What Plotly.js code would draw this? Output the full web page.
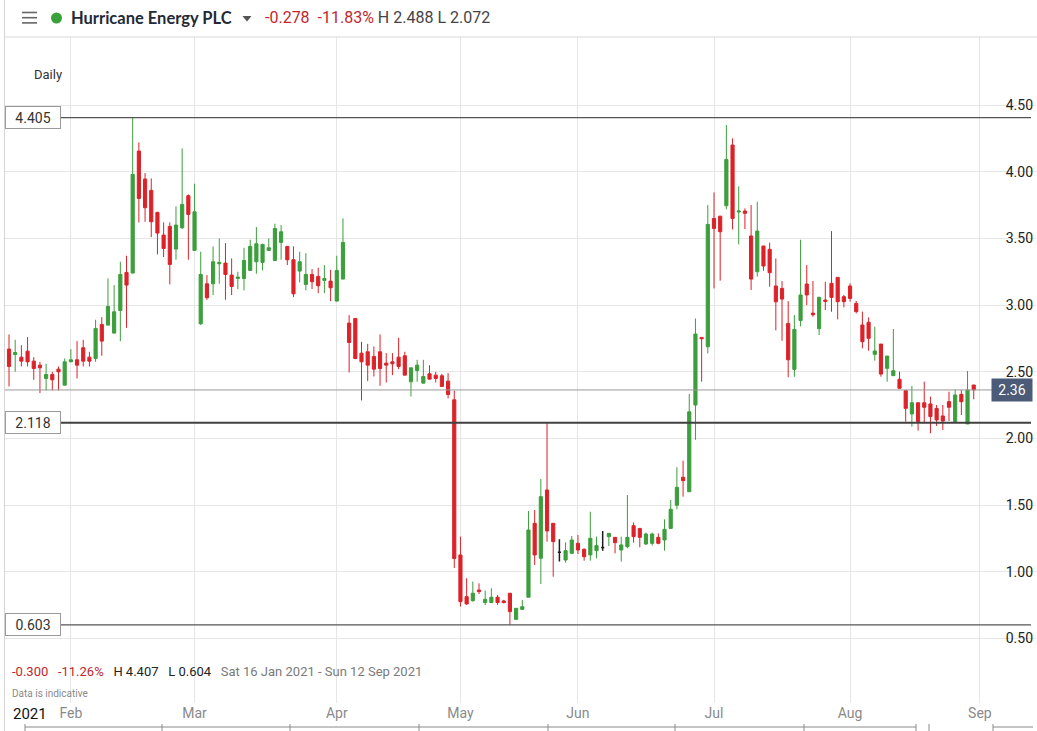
<!DOCTYPE html>
<html>
<head>
<meta charset="utf-8">
<script src="https://cdn.plot.ly/plotly-3.0.1.min.js"></script>
<style>
  html, body { margin: 0; padding: 0; background: #fff; }
  #chart { width: 1037px; height: 731px; }
</style>
</head>
<body>
<div id="chart"></div>
<script>
// ---------------- DATA ----------------
const dates = [
  '2021-01-18','2021-01-19','2021-01-20','2021-01-21','2021-01-22','2021-01-25','2021-01-26','2021-01-27','2021-01-28','2021-01-29',
  '2021-02-01','2021-02-02','2021-02-03','2021-02-04','2021-02-05','2021-02-08','2021-02-09','2021-02-10','2021-02-11','2021-02-12',
  '2021-02-15','2021-02-16','2021-02-17','2021-02-18','2021-02-19','2021-02-22','2021-02-23','2021-02-24','2021-02-25','2021-02-26',
  '2021-03-01','2021-03-02','2021-03-03','2021-03-04','2021-03-05','2021-03-08','2021-03-09','2021-03-10','2021-03-11','2021-03-12',
  '2021-03-15','2021-03-16','2021-03-17','2021-03-18','2021-03-19','2021-03-22','2021-03-23','2021-03-24','2021-03-25','2021-03-26',
  '2021-03-29','2021-03-30','2021-03-31',
  '2021-04-01','2021-04-06','2021-04-07','2021-04-08','2021-04-09','2021-04-12','2021-04-13','2021-04-14','2021-04-15','2021-04-16',
  '2021-04-19','2021-04-20','2021-04-21','2021-04-22','2021-04-23','2021-04-26','2021-04-27','2021-04-28','2021-04-29','2021-04-30',
  '2021-05-04','2021-05-05','2021-05-06','2021-05-07','2021-05-10','2021-05-11','2021-05-12','2021-05-13','2021-05-14',
  '2021-05-17','2021-05-18','2021-05-19','2021-05-20','2021-05-21','2021-05-24','2021-05-25','2021-05-26','2021-05-27','2021-05-28',
  '2021-06-01','2021-06-02','2021-06-03','2021-06-04','2021-06-07','2021-06-08','2021-06-09','2021-06-10','2021-06-11',
  '2021-06-14','2021-06-15','2021-06-16','2021-06-17','2021-06-18','2021-06-21','2021-06-22','2021-06-23','2021-06-24','2021-06-25',
  '2021-06-28','2021-06-29','2021-06-30',
  '2021-07-01','2021-07-02','2021-07-05','2021-07-06','2021-07-07','2021-07-08','2021-07-09','2021-07-12','2021-07-13','2021-07-14',
  '2021-07-15','2021-07-16','2021-07-19','2021-07-20','2021-07-21','2021-07-22','2021-07-23','2021-07-26','2021-07-27','2021-07-28',
  '2021-07-29','2021-07-30',
  '2021-08-02','2021-08-03','2021-08-04','2021-08-05','2021-08-06','2021-08-09','2021-08-10','2021-08-11','2021-08-12','2021-08-13',
  '2021-08-16','2021-08-17','2021-08-18','2021-08-19','2021-08-20','2021-08-23','2021-08-24','2021-08-25','2021-08-26','2021-08-27',
  '2021-08-31'
];

const open = [
  2.67,2.63,2.61,2.655,2.58,2.55,2.45,2.48,2.52,2.40,
  2.575,2.59,2.68,2.61,2.60,2.855,2.85,2.79,2.96,3.245,
  3.24,4.155,3.945,3.86,3.695,3.525,3.59,3.42,3.58,3.82,
  3.41,2.86,3.16,3.16,3.31,3.315,3.225,3.20,3.20,3.26,
  3.325,3.32,3.41,3.335,3.47,3.44,3.34,3.255,3.155,3.23,
  3.215,3.185,3.18,
  3.03,3.195,2.865,2.90,2.64,2.65,2.615,2.65,2.565,2.575,
  2.61,2.62,2.425,2.51,2.415,2.485,2.475,2.47,2.43,2.29,
  1.127,0.814,0.784,0.864,0.77,0.77,0.81,0.782,0.84,
  0.644,0.719,0.81,1.364,1.102,1.614,1.364,1.147,1.089,1.139,
  1.214,1.169,1.127,1.159,1.182,1.264,1.259,1.164,1.189,
  1.346,1.326,1.209,1.214,1.259,1.239,1.326,1.50,1.709,1.601,
  2.251,2.758,2.688,
  3.65,3.667,3.745,4.20,3.698,3.705,3.518,3.25,3.443,3.418,
  3.143,3.125,2.863,2.518,2.885,3.158,2.94,2.823,3.038,3.163,
  3.208,3.063,
  3.143,3.013,2.851,2.871,2.631,2.708,2.526,2.471,2.444,2.359,
  2.184,2.268,2.268,2.259,2.226,2.169,2.276,2.126,2.331,2.109,
  2.401
];

const high = [
  2.78,2.74,2.70,2.76,2.61,2.575,2.56,2.50,2.54,2.60,
  2.67,2.73,2.74,2.65,2.89,2.91,3.20,3.15,3.325,3.37,
  4.407,4.22,3.99,3.95,3.70,3.62,3.62,3.74,4.175,3.83,
  3.91,3.40,3.225,3.44,3.50,3.465,3.35,3.25,3.43,3.49,
  3.585,3.46,3.50,3.61,3.60,3.44,3.44,3.40,3.39,3.27,
  3.28,3.30,3.265,
  3.37,3.65,2.925,2.90,2.725,2.71,2.69,2.78,2.64,2.64,
  2.755,2.65,2.53,2.59,2.59,2.55,2.50,2.485,2.49,2.36,
  1.264,0.952,0.927,0.914,0.86,0.877,0.827,0.79,0.84,
  0.727,0.789,1.456,1.464,1.696,2.114,1.364,1.244,1.222,1.269,
  1.277,1.177,1.451,1.264,1.306,1.289,1.259,1.264,1.576,
  1.371,1.326,1.294,1.294,1.289,1.394,1.539,1.784,1.834,2.334,
  2.90,2.758,3.75,
  3.845,3.667,4.35,4.25,3.89,3.725,3.75,3.775,3.443,3.468,
  3.35,3.18,3.03,2.925,3.49,3.30,3.18,3.063,3.175,3.555,
  3.208,3.076,
  3.163,3.031,2.951,2.908,2.838,2.708,2.618,2.821,2.501,2.359,
  2.394,2.268,2.426,2.314,2.251,2.251,2.351,2.368,2.364,2.506,
  2.401
];

const low = [
  2.39,2.50,2.54,2.54,2.44,2.34,2.36,2.36,2.36,2.40,
  2.575,2.45,2.54,2.54,2.575,2.62,2.85,2.79,2.73,2.83,
  3.24,3.62,3.625,3.51,3.38,3.36,3.155,3.34,3.57,3.34,
  3.41,2.85,3.04,3.075,3.16,3.04,3.075,3.12,3.11,3.26,
  3.235,3.26,3.41,3.335,3.34,3.30,3.06,3.17,3.11,3.12,
  3.09,3.09,3.03,
  3.03,3.195,2.495,2.595,2.285,2.43,2.465,2.395,2.42,2.475,
  2.52,2.475,2.315,2.425,2.415,2.445,2.42,2.39,2.30,1.03,
  0.74,0.752,0.777,0.834,0.752,0.77,0.752,0.764,0.604,
  0.64,0.714,0.81,1.052,0.909,1.227,0.964,1.077,1.069,1.134,
  1.134,1.084,1.084,1.102,1.159,1.194,1.139,1.077,1.177,
  1.219,1.184,1.202,1.197,1.207,1.159,1.326,1.469,1.564,1.601,
  1.99,2.426,2.638,
  3.125,3.183,3.718,3.567,3.455,3.57,3.113,3.213,3.258,3.138,
  2.81,2.733,2.459,2.463,2.84,3.0,2.913,2.776,2.963,2.95,
  2.893,2.983,
  3.026,2.938,2.676,2.658,2.583,2.463,2.426,2.471,2.376,2.126,
  2.089,2.059,2.114,2.039,2.094,2.064,2.131,2.119,2.176,2.109,
  2.294
];

const close = [
  2.54,2.645,2.58,2.575,2.525,2.53,2.48,2.44,2.50,2.575,
  2.59,2.55,2.58,2.58,2.825,2.73,2.99,2.95,3.23,3.15,
  3.98,3.80,3.73,3.625,3.54,3.425,3.305,3.60,3.755,3.68,
  3.70,3.23,3.055,3.325,3.32,3.23,3.14,3.21,3.335,3.44,
  3.46,3.455,3.43,3.575,3.55,3.34,3.085,3.325,3.23,3.175,
  3.145,3.20,3.13,
  3.26,3.47,2.72,2.60,2.575,2.55,2.52,2.525,2.55,2.56,
  2.54,2.475,2.53,2.55,2.465,2.445,2.45,2.39,2.33,1.10,
  0.777,0.76,0.84,0.852,0.794,0.81,0.77,0.77,0.702,
  0.727,0.739,1.314,1.127,1.564,1.307,1.227,1.147,1.159,1.239,
  1.164,1.114,1.252,1.197,1.182,1.289,1.219,1.202,1.259,
  1.264,1.259,1.284,1.284,1.214,1.319,1.469,1.634,1.684,2.20,
  2.783,2.748,3.605,
  3.575,3.55,4.092,3.65,3.705,3.688,3.195,3.555,3.293,3.243,
  3.025,3.045,2.59,2.818,3.076,3.076,2.927,3.058,3.028,3.058,
  3.026,3.026,
  3.05,2.951,2.726,2.751,2.656,2.483,2.618,2.508,2.376,2.226,
  2.268,2.126,2.234,2.164,2.139,2.131,2.234,2.326,2.276,2.364,
  2.364
];

const monthTickDates  = ['2021-02-01','2021-03-01','2021-04-01','2021-05-04','2021-06-01','2021-07-01','2021-08-02','2021-09-01'];
const monthTickLabels = ['Feb','Mar','Apr','May','Jun','Jul','Aug','Sep'];
const priceTicks = [0.5, 1.0, 1.5, 2.0, 2.5, 3.0, 3.5, 4.0, 4.5];
const levelValues = [4.405, 2.118, 0.603];
const levelLabels = ['4.405', '2.118', '0.603'];
const lastPriceLabel = '2.36';

// ---------------- LAYOUT HELPERS ----------------
const W = 1037, H = 731;
const M = {l: 5, r: 1, t: 37, b: 28};
const PW = W - M.l - M.r, PH = H - M.t - M.b;
const px = p => (p - M.l) / PW;          // page x pixel -> paper
const py = p => (H - M.b - p) / PH;      // page y pixel -> paper

const GREEN = '#3c9e3c', RED = '#dc2229', DOJI = '#1e1e1e';

// positions on the trading-day axis
const idx = dates.map((d, i) => i);
const posOf = d => { const i = dates.indexOf(d); return i >= 0 ? i : dates.length; };

const mainI = idx.filter(i => open[i] !== close[i]);
const dojiI = idx.filter(i => open[i] === close[i]);
const pick = (arr, ids) => ids.map(i => arr[i]);

const traces = [
  {
    type: 'candlestick',
    x: pick(idx, mainI), open: pick(open, mainI), high: pick(high, mainI),
    low: pick(low, mainI), close: pick(close, mainI),
    text: pick(dates, mainI),
    increasing: {line: {color: GREEN, width: 1}, fillcolor: GREEN},
    decreasing: {line: {color: RED, width: 1}, fillcolor: RED},
    showlegend: false, hoverinfo: 'text+y'
  },
  {
    type: 'candlestick',
    x: pick(idx, dojiI), open: pick(open, dojiI), high: pick(high, dojiI),
    low: pick(low, dojiI), close: pick(close, dojiI),
    text: pick(dates, dojiI),
    increasing: {line: {color: DOJI, width: 1.5}, fillcolor: DOJI},
    decreasing: {line: {color: DOJI, width: 1.5}, fillcolor: DOJI},
    showlegend: false, hoverinfo: 'text+y'
  }
];

const lastClose = close[close.length - 1];
const FONT = 'Roboto, "Open Sans", Arial, sans-serif';

const shapes = [
  // header separator and left border
  {type: 'line', xref: 'paper', yref: 'paper', x0: px(4), x1: px(1037), y0: py(37), y1: py(37), line: {color: '#d9d9d9', width: 1}},
  {type: 'line', xref: 'paper', yref: 'paper', x0: px(4.5), x1: px(4.5), y0: py(0), y1: py(731), line: {color: '#d4d4d4', width: 1}},
  // hamburger icon
  {type: 'line', xref: 'paper', yref: 'paper', x0: px(22), x1: px(37), y0: py(12.5), y1: py(12.5), line: {color: '#666', width: 1.6}},
  {type: 'line', xref: 'paper', yref: 'paper', x0: px(22), x1: px(37), y0: py(17.7), y1: py(17.7), line: {color: '#666', width: 1.6}},
  {type: 'line', xref: 'paper', yref: 'paper', x0: px(22), x1: px(37), y0: py(22.9), y1: py(22.9), line: {color: '#666', width: 1.6}},
  // green status dot
  {type: 'circle', xref: 'paper', yref: 'paper', x0: px(51), x1: px(62), y0: py(12.5), y1: py(23.5), fillcolor: '#3aa13a', line: {width: 0}},
  // dropdown triangle
  {type: 'path', xref: 'paper', yref: 'paper',
   path: `M${px(242.5)},${py(16)} L${px(251.5)},${py(16)} L${px(247)},${py(21.5)} Z`,
   fillcolor: '#555', line: {width: 0}},
  // current price line
  {type: 'line', xref: 'paper', yref: 'y', x0: 0, x1: px(993), y0: lastClose, y1: lastClose, line: {color: '#9a9a9a', width: 1}},
  // navigator strip at bottom
  {type: 'line', xref: 'paper', yref: 'paper', x0: px(25), x1: px(916), y0: py(727), y1: py(727), line: {color: '#8a8a8a', width: 1}},
  {type: 'line', xref: 'paper', yref: 'paper', x0: px(993), x1: px(1033), y0: py(727), y1: py(727), line: {color: '#8a8a8a', width: 1}}
];
[25, 162, 290, 419, 548, 675, 804, 916, 929, 993].forEach(x => {
  shapes.push({type: 'line', xref: 'paper', yref: 'paper', x0: px(x), x1: px(x), y0: py(724), y1: py(731), line: {color: '#8a8a8a', width: 1}});
});
levelValues.forEach((v, k) => {
  shapes.push({type: 'line', xref: 'paper', yref: 'y', x0: px(60.5), x1: px(1031), y0: v, y1: v,
               line: {color: k === 1 ? '#404040' : '#555', width: k === 1 ? 2 : 1.2}});
});

const annotations = [
  {xref: 'paper', yref: 'paper', x: px(69), y: py(18), xanchor: 'left', yanchor: 'middle', showarrow: false,
   text: '<b>Hurricane Energy PLC</b>', font: {family: 'Lato, ' + FONT, size: 16.5, color: '#1f2a37'}},
  {xref: 'paper', yref: 'paper', x: px(263), y: py(18), xanchor: 'left', yanchor: 'middle', showarrow: false,
   text: '<span style="color:#c0282d">-0.278&nbsp;&nbsp;-11.83%</span> H 2.488 L 2.072',
   font: {family: FONT, size: 16, color: '#444'}},
  {xref: 'paper', yref: 'paper', x: px(64), y: py(74), xanchor: 'right', yanchor: 'middle', showarrow: false,
   text: 'Daily', font: {family: FONT, size: 13, color: '#333'}},
  {xref: 'paper', yref: 'paper', x: px(10), y: py(671), xanchor: 'left', yanchor: 'middle', showarrow: false,
   text: '<span style="color:#c0282d">-0.300&nbsp;&nbsp;&nbsp;-11.26%</span>&nbsp;&nbsp;&nbsp;<span style="color:#222">H 4.407&nbsp;&nbsp;&nbsp;L 0.604</span>&nbsp;&nbsp;&nbsp;<span style="color:#7a7a7a">Sat 16 Jan 2021 - Sun 12 Sep 2021</span>',
   font: {family: FONT, size: 13, color: '#222'}},
  {xref: 'paper', yref: 'paper', x: px(10), y: py(693), xanchor: 'left', yanchor: 'middle', showarrow: false,
   text: 'Data is indicative', font: {family: FONT, size: 10, color: '#8a8a8a'}},
  {xref: 'paper', yref: 'paper', x: px(11), y: py(714), xanchor: 'left', yanchor: 'middle', showarrow: false,
   text: '2021', font: {family: FONT, size: 15, color: '#111'}},
  {xref: 'paper', yref: 'y', x: px(1033), y: lastClose, xanchor: 'right', yanchor: 'middle', showarrow: false,
   text: lastPriceLabel, bgcolor: '#4b5b78', borderpad: 3, width: 34,
   font: {family: FONT, size: 14, color: '#ffffff'}}
];
levelValues.forEach((v, k) => {
  annotations.push({xref: 'paper', yref: 'y', x: px(4.5), y: v, xanchor: 'left', yanchor: 'middle', showarrow: false,
    text: levelLabels[k], bgcolor: '#ffffff', bordercolor: '#9a9a9a', borderwidth: 1, borderpad: 2, width: 50, height: 17,
    font: {family: FONT, size: 14, color: '#333'}});
});

const layout = {
  width: W, height: H,
  margin: M,
  paper_bgcolor: '#ffffff', plot_bgcolor: '#ffffff',
  showlegend: false,
  boxgap: 0.27,
  font: {family: FONT},
  xaxis: {
    type: 'linear',
    range: [-0.65, -0.65 + PW / 6.184],
    tickmode: 'array',
    tickvals: monthTickDates.map(posOf),
    ticktext: monthTickLabels,
    showgrid: true, gridcolor: '#e6e6e6', gridwidth: 1,
    zeroline: false, showline: false, ticks: '',
    tickfont: {family: FONT, size: 14, color: '#8a8a8a'},
    rangeslider: {visible: false},
    fixedrange: true
  },
  yaxis: {
    side: 'right',
    range: [0.017, 5.01],
    tickmode: 'array',
    tickvals: priceTicks,
    tickformat: '.2f',
    ticklabelposition: 'inside',
    showgrid: true, gridcolor: '#e6e6e6', gridwidth: 1,
    zeroline: false, showline: false, ticks: '',
    tickfont: {family: FONT, size: 14, color: '#222'},
    fixedrange: true
  },
  shapes: shapes,
  annotations: annotations
};

Plotly.newPlot('chart', traces, layout, {displayModeBar: false, staticPlot: true});
</script>
</body>
</html>
